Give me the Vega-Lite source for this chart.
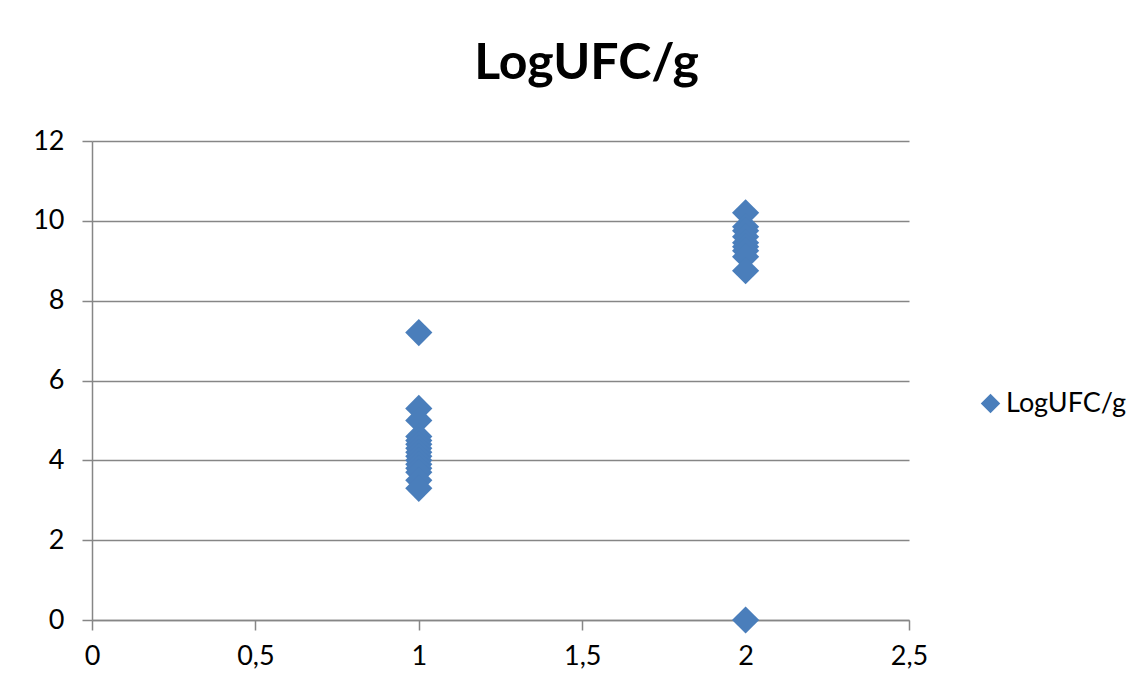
{
  "$schema": "https://vega.github.io/schema/vega-lite/v6.json",
  "width": 817,
  "height": 479,
  "autosize": {"type": "none"},
  "padding": {"left": 92, "top": 141, "right": 239, "bottom": 76},
  "background": "white",
  "title": {
    "text": "LogUFC/g",
    "font": "Lato",
    "fontSize": 50,
    "fontWeight": "bold",
    "color": "#000000",
    "anchor": "middle",
    "frame": "group",
    "dx": 86,
    "baseline": "alphabetic",
    "offset": -2
  },
  "data": {
    "values": [
      {"group": 1, "value": 7.2, "series": "LogUFC/g"},
      {"group": 1, "value": 5.3, "series": "LogUFC/g"},
      {"group": 1, "value": 5.0, "series": "LogUFC/g"},
      {"group": 1, "value": 4.6, "series": "LogUFC/g"},
      {"group": 1, "value": 4.5, "series": "LogUFC/g"},
      {"group": 1, "value": 4.4, "series": "LogUFC/g"},
      {"group": 1, "value": 4.3, "series": "LogUFC/g"},
      {"group": 1, "value": 4.2, "series": "LogUFC/g"},
      {"group": 1, "value": 4.1, "series": "LogUFC/g"},
      {"group": 1, "value": 4.0, "series": "LogUFC/g"},
      {"group": 1, "value": 3.9, "series": "LogUFC/g"},
      {"group": 1, "value": 3.8, "series": "LogUFC/g"},
      {"group": 1, "value": 3.7, "series": "LogUFC/g"},
      {"group": 1, "value": 3.5, "series": "LogUFC/g"},
      {"group": 1, "value": 3.3, "series": "LogUFC/g"},
      {"group": 2, "value": 10.2, "series": "LogUFC/g"},
      {"group": 2, "value": 9.85, "series": "LogUFC/g"},
      {"group": 2, "value": 9.75, "series": "LogUFC/g"},
      {"group": 2, "value": 9.6, "series": "LogUFC/g"},
      {"group": 2, "value": 9.45, "series": "LogUFC/g"},
      {"group": 2, "value": 9.35, "series": "LogUFC/g"},
      {"group": 2, "value": 9.25, "series": "LogUFC/g"},
      {"group": 2, "value": 9.1, "series": "LogUFC/g"},
      {"group": 2, "value": 8.75, "series": "LogUFC/g"},
      {"group": 2, "value": 0.0, "series": "LogUFC/g"}
    ]
  },
  "mark": {"type": "point", "shape": "diamond", "filled": true, "size": 740, "opacity": 1, "clip": false},
  "encoding": {
    "x": {
      "field": "group",
      "type": "quantitative",
      "scale": {"domain": [0, 2.5], "nice": false, "zero": true},
      "axis": {
        "title": null,
        "values": [0, 0.5, 1, 1.5, 2, 2.5],
        "format": "~g",
        "labelExpr": "replace(datum.label, '.', ',')",
        "grid": false,
        "domainColor": "#868686",
        "domainWidth": 1.5,
        "tickColor": "#868686",
        "tickSize": 10,
        "tickWidth": 1.5,
        "labelFont": "Lato",
        "labelFontSize": 27,
        "labelColor": "#000000",
        "labelPadding": 13,
        "labelFlush": false
      }
    },
    "y": {
      "field": "value",
      "type": "quantitative",
      "scale": {"domain": [0, 12], "nice": false},
      "axis": {
        "title": null,
        "values": [0, 2, 4, 6, 8, 10, 12],
        "grid": true,
        "gridColor": "#868686",
        "gridWidth": 1.5,
        "domainColor": "#868686",
        "domainWidth": 1.5,
        "tickColor": "#868686",
        "tickSize": 10,
        "tickWidth": 1.5,
        "labelFont": "Lato",
        "labelFontSize": 27,
        "labelColor": "#000000",
        "labelPadding": 18,
        "labelFlush": false
      }
    },
    "color": {
      "field": "series",
      "type": "nominal",
      "scale": {"range": ["#4A7EBB"]},
      "legend": {
        "title": null,
        "orient": "none",
        "legendX": 885,
        "legendY": 249,
        "symbolType": "diamond",
        "symbolSize": 380,
        "symbolStrokeWidth": 0,
        "labelFont": "Lato",
        "labelFontSize": 27,
        "labelColor": "#000000",
        "labelOffset": 2
      }
    }
  },
  "config": {
    "view": {"stroke": null}
  }
}
